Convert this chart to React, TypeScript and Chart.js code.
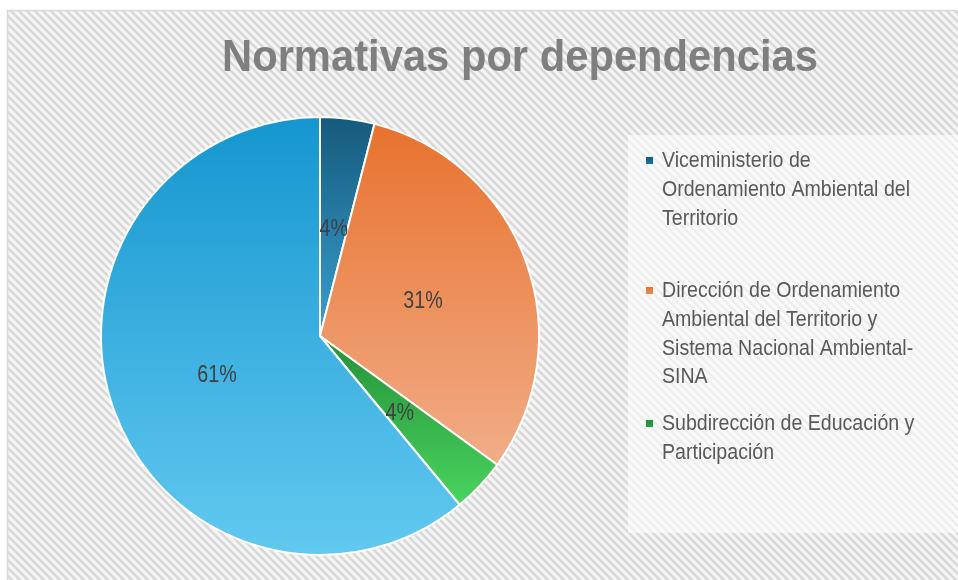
import React, { useEffect, useRef } from "react";
import { Chart, registerables } from "chart.js";

Chart.register(...registerables);

const TITLE = "Normativas por dependencias";
const categories: string[][] = [
  ["Viceministerio de", "Ordenamiento Ambiental del", "Territorio"],
  ["Dirección de Ordenamiento", "Ambiental del Territorio y", "Sistema Nacional Ambiental-", "SINA"],
  ["Subdirección de Educación y", "Participación"],
  [""],
];
const values = [4, 31, 4, 61];
const percentLabels = ["4%", "31%", "4%", "61%"];
const gradientTop = ["#155a7c", "#e8722e", "#24903a", "#1596cf"];
const gradientBottom = ["#3a9fd0", "#f1ad88", "#4ad45e", "#62c9f0"];
const legendSwatch = ["#1f77a8", "#ee8d5a", "#2aa040", "#35b0e0"];

function narrowAvailable(): boolean {
  const c = document.createElement("canvas").getContext("2d")!;
  c.font = "40px monospace";
  const a = c.measureText("Ordenamiento Ambiental").width;
  c.font = "40px 'Liberation Sans Narrow', monospace";
  const b = c.measureText("Ordenamiento Ambiental").width;
  return Math.abs(a - b) > 0.5;
}

function sectorBox(x: number, y: number, r: number, s: number, e: number) {
  let top = y, bottom = y;
  const pts = [s, e];
  for (let k = -2; k <= 4; k++) {
    const a = -Math.PI / 2 + k * Math.PI;
    if (a > s && a < e) pts.push(a);
  }
  for (const a of pts) {
    const py = y + r * Math.sin(a);
    top = Math.min(top, py);
    bottom = Math.max(bottom, py);
  }
  return { top, bottom };
}

export default function App() {
  const ref = useRef<HTMLCanvasElement>(null);
  useEffect(() => {
    document.body.style.margin = "0";
    const canvas = ref.current!;
    const hasNarrow = narrowAvailable();
    const family = hasNarrow ? "'Liberation Sans Narrow', 'Arial Narrow', sans-serif" : "'Liberation Sans', Arial, sans-serif";
    const squeeze = hasNarrow ? 1 : 0.82;

    const drawText = (ctx: CanvasRenderingContext2D, text: string, x: number, y: number, font: string, color: string, align: "left" | "center", sx: number) => {
      ctx.save();
      ctx.font = font;
      ctx.fillStyle = color;
      ctx.textBaseline = "alphabetic";
      ctx.translate(x, y);
      ctx.scale(sx, 1);
      ctx.textAlign = align;
      ctx.fillText(text, 0, 0);
      ctx.restore();
    };
    const fitScale = (ctx: CanvasRenderingContext2D, text: string, font: string, target: number) => {
      ctx.save();
      ctx.font = font;
      const w = ctx.measureText(text).width;
      ctx.restore();
      return target / w;
    };

    const bgPlugin = {
      id: "bgHatch",
      beforeDraw(chart: any) {
        const ctx: CanvasRenderingContext2D = chart.ctx;
        const W = chart.width, H = chart.height;
        ctx.save();
        ctx.fillStyle = "#ffffff";
        ctx.fillRect(0, 0, W, H);
        const p = document.createElement("canvas");
        p.width = 8; p.height = 8;
        const pc = p.getContext("2d")!;
        pc.fillStyle = "#f5f5f5";
        pc.fillRect(0, 0, 8, 8);
        pc.strokeStyle = "#d8d8d8";
        pc.lineWidth = 2.4;
        pc.beginPath();
        pc.moveTo(-4, -4); pc.lineTo(12, 12);
        pc.moveTo(-12, -4); pc.lineTo(4, 12);
        pc.moveTo(4, -4); pc.lineTo(20, 12);
        pc.stroke();
        const pat = ctx.createPattern(p, "repeat")!;
        ctx.fillStyle = pat;
        ctx.fillRect(7, 10, W - 7, H - 10);
        ctx.strokeStyle = "#d9d9d9";
        ctx.lineWidth = 1.5;
        ctx.beginPath();
        ctx.moveTo(7.5, H);
        ctx.lineTo(7.5, 10.5);
        ctx.lineTo(W, 10.5);
        ctx.stroke();
        // legend box
        ctx.fillStyle = "rgba(255,255,255,0.55)";
        ctx.fillRect(628, 135, W - 628, 398);
        // title
        const tf = `bold 44px ${family}`;
        drawText(ctx, TITLE, 520, 71, tf, "#7f7f7f", "center", fitScale(ctx, TITLE, tf, 596));
        ctx.restore();
      },
      beforeDatasetsDraw(chart: any) {
        const ctx: CanvasRenderingContext2D = chart.ctx;
        const meta = chart.getDatasetMeta(0);
        meta.data.forEach((arc: any, i: number) => {
          const { top, bottom } = sectorBox(arc.x, arc.y, arc.outerRadius, arc.startAngle, arc.endAngle);
          const g = ctx.createLinearGradient(0, top, 0, bottom);
          g.addColorStop(0, gradientTop[i]);
          g.addColorStop(1, gradientBottom[i]);
          arc.options.backgroundColor = g;
        });
      },
      afterDatasetsDraw(chart: any) {
        const ctx: CanvasRenderingContext2D = chart.ctx;
        const meta = chart.getDatasetMeta(0);
        const pf = `24px ${family}`;
        meta.data.forEach((arc: any, i: number) => {
          const c = arc.getCenterPoint();
          drawText(ctx, percentLabels[i], c.x, c.y + 9, pf, "#404040", "center", squeeze);
        });
        // legend
        const lf = `22px ${family}`;
        const ls = fitScale(ctx, "Ordenamiento Ambiental del", lf, 248);
        const labels: string[][] = chart.data.labels;
        const itemTops = [167, 297, 430];
        let idx = 0;
        labels.forEach((lines, i) => {
          if (!lines.join("").trim()) return;
          const y0 = itemTops[idx++];
          ctx.save();
          const g = ctx.createLinearGradient(0, y0 - 10, 0, y0 - 2);
          g.addColorStop(0, gradientTop[i]);
          g.addColorStop(1, legendSwatch[i]);
          ctx.fillStyle = g;
          ctx.fillRect(646, y0 - 10, 7, 7);
          ctx.restore();
          lines.forEach((ln, k) => {
            drawText(ctx, ln, 662, y0 + k * 28.8, lf, "#595959", "left", ls);
          });
        });
      },
    };

    const chart = new Chart(canvas, {
      type: "pie",
      data: {
        labels: categories as any,
        datasets: [
          {
            data: values,
            backgroundColor: legendSwatch,
            borderColor: "#ffffff",
            borderWidth: 2,
          },
        ],
      },
      options: {
        responsive: false,
        animation: false,
        layout: { padding: { left: 100, right: 418, top: 116, bottom: 24 } },
        plugins: {
          legend: { display: false },
          tooltip: { enabled: false },
          title: { display: false },
        },
      },
      plugins: [bgPlugin],
    });
    return () => chart.destroy();
  }, []);
  return (
    <div style={{ position: "absolute", left: 0, top: 0, width: 958, height: 580 }}>
      <canvas ref={ref} width={958} height={580} style={{ display: "block", width: 958, height: 580 }} />
    </div>
  );
}
